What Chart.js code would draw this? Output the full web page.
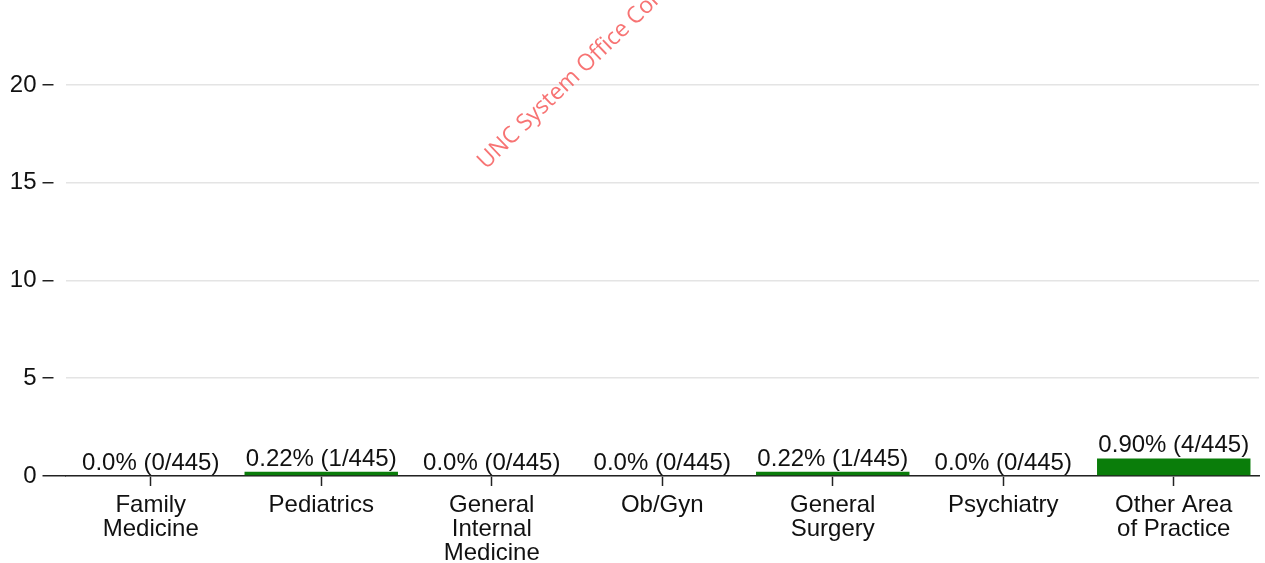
<!DOCTYPE html>
<html>
<head>
<meta charset="utf-8">
<script src="https://cdn.jsdelivr.net/npm/chart.js@4"></script>
<style>
  html, body { margin: 0; padding: 0; background: #fff; }
  #wrap { width: 1265px; height: 563px; position: relative; }
</style>
</head>
<body>
<div id="wrap"><canvas id="myChart"></canvas></div>
<script>
// area of practice vs share of respondents
var categories = [
  ["Family", "Medicine"],
  ["Pediatrics"],
  ["General", "Internal", "Medicine"],
  ["Ob/Gyn"],
  ["General", "Surgery"],
  ["Psychiatry"],
  ["Other Area", "of Practice"]
];
var percents = [0, 0.22, 0, 0, 0.22, 0, 0.90];
var counts = [0, 1, 0, 0, 1, 0, 4];
var total = 445;
var pctLabels = ["0.0%", "0.22%", "0.0%", "0.0%", "0.22%", "0.0%", "0.90%"];
var yTicks = [0, 5, 10, 15, 20];

var FONT = "'Liberation Sans', Arial, sans-serif";

// labels above each bar
var barLabels = {
  id: 'barLabels',
  afterDatasetsDraw(chart) {
    var ctx = chart.ctx;
    var meta = chart.getDatasetMeta(0);
    ctx.save();
    ctx.font = "24px " + FONT;
    ctx.fillStyle = "#111";
    ctx.textAlign = "center";
    ctx.textBaseline = "alphabetic";
    meta.data.forEach(function(bar, i) {
      var txt = pctLabels[i] + " (" + counts[i] + "/" + total + ")";
      ctx.fillText(txt, bar.x, bar.y - 6);
    });
    ctx.restore();
  }
};

// the red watermark
var watermark = {
  id: 'watermark',
  afterDraw(chart) {
    var ctx = chart.ctx;
    ctx.save();
    ctx.translate(486, 170);
    ctx.rotate(-44 * Math.PI / 180);
    ctx.font = "23px 'Open Sans', sans-serif";
    ctx.fillStyle = "rgba(245, 80, 80, 0.8)";
    ctx.textAlign = "left";
    ctx.textBaseline = "alphabetic";
    ctx.fillText("UNC System Office Confidential", 0, 0);
    ctx.restore();
  }
};

const ctx = document.getElementById('myChart');

new Chart(ctx, {
  type: 'bar',
  data: {
    labels: categories,
    datasets: [{
      data: percents,
      backgroundColor: '#0a7d0a',
      borderWidth: 0,
      barPercentage: 0.9,
      categoryPercentage: 1.0
    }]
  },
  options: {
    responsive: true,
    maintainAspectRatio: false,
    animation: false,
    layout: { padding: { left: 0, right: 6, top: 0, bottom: 0 } },
    plugins: {
      legend: { display: false },
      tooltip: { enabled: false }
    },
    scales: {
      x: {
        offset: true,
        afterFit: function(s) { s.height = 87; },
        grid: {
          offset: false,
          drawOnChartArea: false,
          drawTicks: true,
          tickLength: 10,
          tickColor: '#222',
          tickWidth: 1.5
        },
        border: { display: true, color: '#222', width: 1.5 },
        ticks: {
          color: '#111',
          padding: 7,
          maxRotation: 0,
          autoSkip: false,
          font: { family: FONT, size: 24, lineHeight: 1.0 }
        }
      },
      y: {
        min: 0,
        max: 23.3,
        afterFit: function(s) { s.width = 65.5; },
        afterBuildTicks: function(s) {
          s.ticks = yTicks.map(function(v) { return { value: v }; });
        },
        grid: {
          color: 'rgb(228,228,228)',
          lineWidth: 1.5,
          drawTicks: true,
          tickLength: 23,
          tickColor: '#222',
          tickWidth: 1.5,
          tickBorderDash: function(c) { return c.tick && c.tick.value === 0 ? [] : [11, 30]; },
          tickBorderDashOffset: 0
        },
        border: { display: false },
        ticks: {
          color: '#111',
          padding: 6,
          font: { family: FONT, size: 24 }
        }
      }
    }
  },
  plugins: [barLabels, watermark]
});
</script>
</body>
</html>
